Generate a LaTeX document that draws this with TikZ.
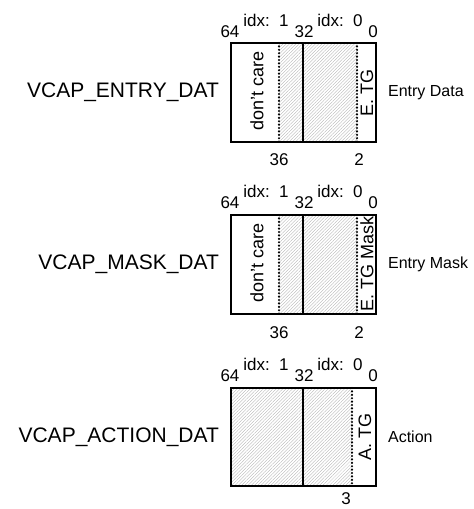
\documentclass[tikz,border=0pt]{standalone}
\usepackage{fontspec}
\setmainfont{Liberation Sans}
\usetikzlibrary{positioning,patterns.meta}

\begin{document}
\begin{tikzpicture}[x=1pt,y=-1pt]
       \tikzset{regbox/.style ={rectangle, draw, line width=1.8pt,
                minimum width=145pt, minimum height=99pt, inner sep=0pt}}

       \tikzset{hatch/.style={pattern={Lines[angle=45,distance=2.3pt,line width=0.35pt]},
                pattern color=gray!60}}

       \tikzset{sep/.style={line width=2.4pt, line cap=round, dash pattern=on 0pt off 3.4pt}}

       \tikzset{half/.style={line width=1.7pt}}

       \tikzset{bit/.style={font=\fontsize{17}{19}\selectfont, inner sep=0pt}}
       \tikzset{regname/.style={font=\fontsize{21}{24}\selectfont, inner sep=0pt}}
       \tikzset{desc/.style={font=\fontsize{16}{18}\selectfont, inner sep=0pt}}
       \tikzset{field/.style={font=\fontsize{18}{20}\selectfont, rotate=90, inner sep=0pt}}

        \useasboundingbox (0,0) rectangle (474,509);

        % entry data
        \fill[hatch] (279,43) rectangle (357,142);
        \node[regbox] (entry) at (303.5,92.5) {};
        \draw[sep] (279,43) -- (279,142);
        \draw[sep] (357,43) -- (357,142);
        \draw[half] (303,43) -- (303,142);
        \node[regname, left=11pt of entry] (entryname) {VCAP\_ENTRY\_DAT};
        \node[desc, right=11pt of entry] (entrydesc) {Entry Data};
        \node[field] (entrydc) at (257,91) {don't care};
        \node[field] (entrytg) at (367,93) {E. TG};
        \node[bit] (entry64) at (230,32) {64};
        \node[bit] (entryidx1) at (266,20) {idx:\ \ 1};
        \node[bit] (entry32) at (304,32) {32};
        \node[bit] (entryidx0) at (340,20) {idx:\ \ 0};
        \node[bit] (entry0) at (373,32) {0};
        \node[bit] (entry36) at (279,160) {36};
        \node[bit] (entry2) at (359,160) {2};

        % entry mask
        \fill[hatch] (279,215) rectangle (357,314);
        \node[regbox] (mask) at (303.5,264.5) {};
        \draw[sep] (279,215) -- (279,314);
        \draw[sep] (357,215) -- (357,314);
        \draw[half] (303,215) -- (303,314);
        \node[regname, left=11pt of mask] (maskname) {VCAP\_MASK\_DAT};
        \node[desc, right=11pt of mask] (maskdesc) {Entry Mask};
        \node[field] (maskdc) at (257,263) {don't care};
        \node[field] (masktg) at (367,264) {E. TG Mask};
        \node[bit] (mask64) at (230,203) {64};
        \node[bit] (maskidx1) at (266,191) {idx:\ \ 1};
        \node[bit] (mask32) at (304,203) {32};
        \node[bit] (maskidx0) at (340,191) {idx:\ \ 0};
        \node[bit] (mask0) at (373,203) {0};
        \node[bit] (mask36) at (279,333) {36};
        \node[bit] (mask2) at (359,333) {2};

        % action
        \fill[hatch] (231,388) rectangle (352,486);
        \node[regbox, minimum height=98pt] (action) at (303.5,437) {};
        \draw[sep] (352,388) -- (352,486);
        \draw[half] (303,388) -- (303,486);
        \node[regname, left=11pt of action] (actionname) {VCAP\_ACTION\_DAT};
        \node[desc, right=11pt of action] (actiondesc) {Action};
        \node[field] (actiontg) at (365,437) {A. TG};
        \node[bit] (action64) at (230,376) {64};
        \node[bit] (actionidx1) at (266,364) {idx:\ \ 1};
        \node[bit] (action32) at (304,376) {32};
        \node[bit] (actionidx0) at (340,364) {idx:\ \ 0};
        \node[bit] (action0) at (373,376) {0};
        \node[bit] (action3) at (346,499) {3};

\end{tikzpicture}
\end{document}
